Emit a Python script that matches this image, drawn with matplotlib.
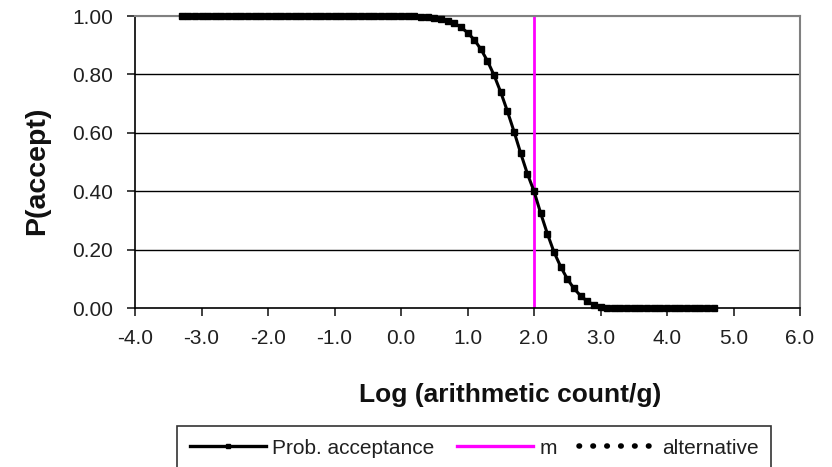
import matplotlib
matplotlib.use("Agg")
import matplotlib.pyplot as plt
from matplotlib.lines import Line2D

plt.rcParams['font.family'] = ['Liberation Sans', 'DejaVu Sans']

# log count/g and probability of acceptance
log_count = [-3.3, -3.2, -3.1, -3.0, -2.9, -2.8, -2.7, -2.6, -2.5, -2.4,
             -2.3, -2.2, -2.1, -2.0, -1.9, -1.8, -1.7, -1.6, -1.5, -1.4,
             -1.3, -1.2, -1.1, -1.0, -0.9, -0.8, -0.7, -0.6, -0.5, -0.4,
             -0.3, -0.2, -0.1, 0.0, 0.1, 0.2, 0.3, 0.4, 0.5, 0.6,
             0.7, 0.8, 0.9, 1.0, 1.1, 1.2, 1.3, 1.4, 1.5, 1.6,
             1.7, 1.8, 1.9, 2.0, 2.1, 2.2, 2.3, 2.4, 2.5, 2.6,
             2.7, 2.8, 2.9, 3.0, 3.1, 3.2, 3.3, 3.4, 3.5, 3.6,
             3.7, 3.8, 3.9, 4.0, 4.1, 4.2, 4.3, 4.4, 4.5, 4.6, 4.7]
p_accept = [1.000] * 33 + [
    1.000, 1.000, 0.999, 0.998, 0.997, 0.994, 0.990,
    0.984, 0.975, 0.962, 0.943, 0.919, 0.887, 0.846, 0.797, 0.739, 0.674,
    0.604, 0.530, 0.460, 0.400, 0.325, 0.255, 0.192, 0.142, 0.100, 0.067,
    0.042, 0.023, 0.011, 0.004, 0.001] + [0.000] * 16
m_value = 2.0
xticks = [-4.0, -3.0, -2.0, -1.0, 0.0, 1.0, 2.0, 3.0, 4.0, 5.0, 6.0]
yticks = [0.0, 0.2, 0.4, 0.6, 0.8, 1.0]

W, H = 832, 467
fig = plt.figure(figsize=(W / 100, H / 100), dpi=100)
ax = fig.add_axes([135 / W, 1 - 308 / H, 665 / W, 292 / H])

for yv in yticks[1:-1]:
    ax.axhline(yv, color='black', lw=1.0, zorder=1)
ax.axhline(1.0, color='#808080', lw=1.5, zorder=1)

ax.plot(log_count, p_accept, color='black', lw=2.2, marker='s', ms=4.5,
        zorder=3, clip_on=False)
ax.axvline(m_value, color='#ff00ff', lw=2, zorder=2)

ax.set_xlim(-4.0, 6.0)
ax.set_ylim(0.0, 1.0)
ax.set_xticks(xticks)
ax.set_xticklabels([f"{v:.1f}" for v in xticks])
ax.set_yticks(yticks)
ax.set_yticklabels([f"{v:.2f}" for v in yticks])
ax.tick_params(direction='out', length=6, width=1.2, labelsize=15,
               colors='#202020')
ax.tick_params(axis='x', pad=9)
ax.tick_params(axis='y', pad=10)

for s in ['top', 'right']:
    ax.spines[s].set_color('#808080')
    ax.spines[s].set_linewidth(1.5)
for s in ['left', 'bottom']:
    ax.spines[s].set_color('black')
    ax.spines[s].set_linewidth(1.2)

ax.set_ylabel('P(accept)', fontsize=20.5, fontweight='bold', color='#111111')
ax.yaxis.set_label_coords((50 - 135) / 665, (308 - 171) / 292)
ax.set_xlabel('Log (arithmetic count/g)', fontsize=19, fontweight='bold',
              color='#111111')
ax.xaxis.set_label_coords((510 - 135) / 665, (308 - 383) / 292)

handles = [
    Line2D([], [], color='black', lw=2.4, marker='s', ms=2.5),
    Line2D([], [], color='#ff00ff', lw=2.4),
    Line2D([], [], color='black', lw=4, linestyle=(0, (0.1, 2.4)),
           dash_capstyle='round'),
]
leg = fig.legend(handles, ['Prob. acceptance', 'm', 'alternative'],
                 loc='upper left', bbox_to_anchor=(177 / W, 1 - 426 / H),
                 ncol=3, fontsize=15, frameon=True, fancybox=False,
                 edgecolor='black', numpoints=1, handlelength=3.65,
                 handletextpad=0.31, columnspacing=1.08, borderpad=0.6,
                 borderaxespad=0)
leg.get_frame().set_linewidth(1.2)
for t in leg.get_texts():
    t.set_color('#202020')

fig.savefig('out.png', dpi=100)
